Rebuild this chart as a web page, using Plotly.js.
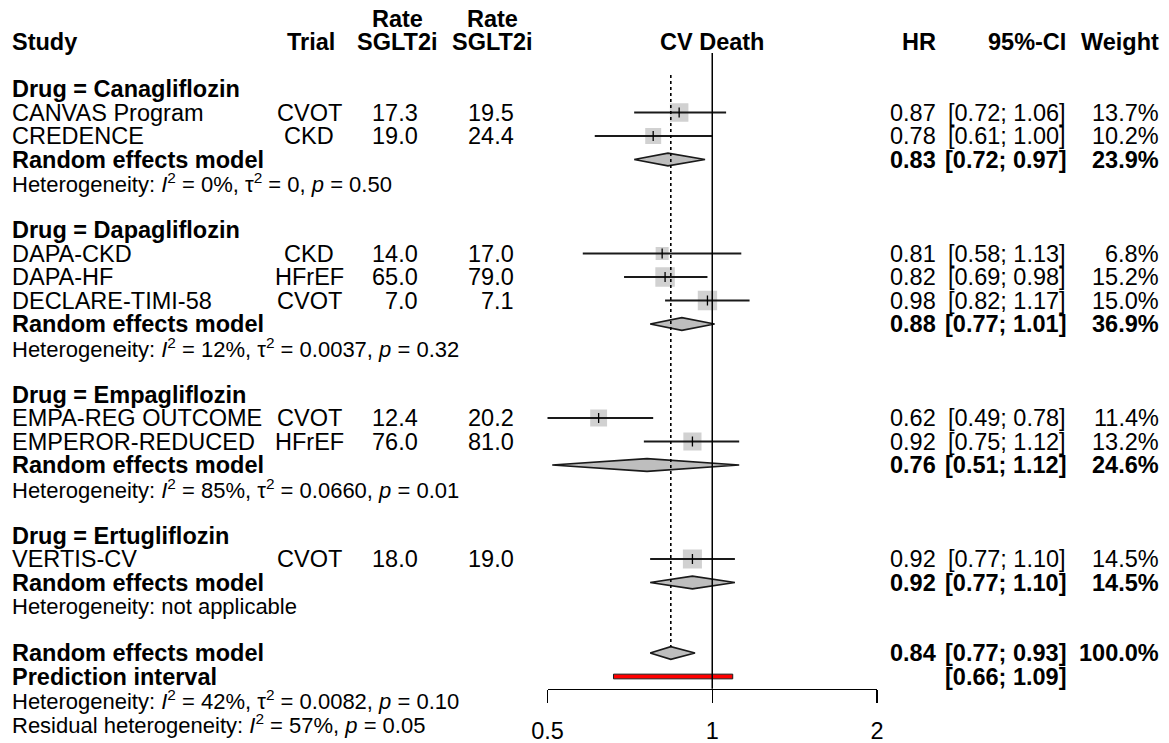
<!DOCTYPE html>
<html>
<head>
<meta charset="utf-8">
<script src="https://cdn.plot.ly/plotly-3.0.1.min.js"></script>
<style>html,body{margin:0;padding:0;background:#fff;}#chart{width:1169px;height:743px;}</style>
</head>
<body>
<div id="chart"></div>
<script>
// ---------------- DATA ----------------
const studies = ['CANVAS Program','CREDENCE','DAPA-CKD','DAPA-HF','DECLARE-TIMI-58','EMPA-REG OUTCOME','EMPEROR-REDUCED','VERTIS-CV'];
const studyDrug = ['Canagliflozin','Canagliflozin','Dapagliflozin','Dapagliflozin','Dapagliflozin','Empagliflozin','Empagliflozin','Ertugliflozin'];
const trialType = ['CVOT','CKD','CKD','HFrEF','CVOT','CVOT','HFrEF','CVOT'];
const rateA = [17.3,19.0,14.0,65.0,7.0,12.4,76.0,18.0];
const rateB = [19.5,24.4,17.0,79.0,7.1,20.2,81.0,19.0];
const hr = [0.87,0.78,0.81,0.82,0.98,0.62,0.92,0.92];
const ciLower = [0.72,0.61,0.58,0.69,0.82,0.49,0.75,0.77];
const ciUpper = [1.06,1.00,1.13,0.98,1.17,0.78,1.12,1.10];
const weight = [13.7,10.2,6.8,15.2,15.0,11.4,13.2,14.5];

const groups = ['Canagliflozin','Dapagliflozin','Empagliflozin','Ertugliflozin'];
const groupHR = [0.83,0.88,0.76,0.92];
const groupLower = [0.72,0.77,0.51,0.77];
const groupUpper = [0.97,1.01,1.12,1.10];
const groupWeight = [23.9,36.9,24.6,14.5];
const groupHet = [
  'Heterogeneity: <i>I</i><sup>2</sup> = 0%, τ<sup>2</sup> = 0, <i>p</i> = 0.50',
  'Heterogeneity: <i>I</i><sup>2</sup> = 12%, τ<sup>2</sup> = 0.0037, <i>p</i> = 0.32',
  'Heterogeneity: <i>I</i><sup>2</sup> = 85%, τ<sup>2</sup> = 0.0660, <i>p</i> = 0.01',
  'Heterogeneity: not applicable'
];
const overallHR = 0.84, overallLower = 0.77, overallUpper = 0.93, overallWeight = 100.0;
const predLower = 0.66, predUpper = 1.09;
const overallHet = 'Heterogeneity: <i>I</i><sup>2</sup> = 42%, τ<sup>2</sup> = 0.0082, <i>p</i> = 0.10';
const residualHet = 'Residual heterogeneity: <i>I</i><sup>2</sup> = 57%, <i>p</i> = 0.05';
const tickVals = [0.5, 1, 2];
const tickText = ['0.5', '1', '2'];
const headers = {study:'Study', trial:'Trial', rateTop:'Rate', rateBottom:'SGLT2i', plot:'CV Death', hr:'HR', ci:'95%-CI', weight:'Weight'};

// ---------------- LAYOUT HELPERS ----------------
const W = 1169, H = 743;
const ROW0 = 42, ROWH = 23.5;
const px = v => v / W;
const FONT = 'Liberation Sans, Arial, Helvetica, sans-serif';
const FS = 23.5, FSH = 22;
const COL = {study: 10, trial: 309, rateA: 420, rateAh: 397, rateB: 516, rateBh: 492, hr: 938, ci: 1068, wt: 1161, plot: 712};

const ann = [];
function txt(text, x, row, anchor, bold, size) {
  ann.push({text: bold ? '<b>' + text + '</b>' : text, x: px(x), xref: 'paper', y: row, yref: 'y',
    xanchor: anchor, yanchor: 'middle', showarrow: false,
    font: {family: FONT, size: size || FS, color: '#000'}});
}
const fmt1 = v => v.toFixed(1);
const fmt2 = v => v.toFixed(2);
const fmtCI = (l, u) => '[' + fmt2(l) + '; ' + fmt2(u) + ']';
const fmtW = v => v.toFixed(1) + '%';

// headers
txt(headers.study, COL.study, 0, 'left', true);
txt(headers.trial, COL.trial + 2, 0, 'center', true);
txt(headers.rateTop, COL.rateAh, -1, 'center', true);
txt(headers.rateBottom, COL.rateAh, 0, 'center', true);
txt(headers.rateTop, COL.rateBh, -1, 'center', true);
txt(headers.rateBottom, COL.rateBh, 0, 'center', true);
txt(headers.plot, COL.plot, 0, 'center', true);
txt(headers.hr, COL.hr, 0, 'right', true);
txt(headers.ci, COL.ci, 0, 'right', true);
txt(headers.weight, COL.wt, 0, 'right', true);

// rows
const sqX = [], sqY = [], sqS = [];
const ciX = [], ciY = [];
const diaX = [], diaY = [];
const DH = 0.27;
let row = 2;
groups.forEach((g, gi) => {
  txt('Drug = ' + g, COL.study, row, 'left', true);
  row++;
  studies.forEach((s, i) => {
    if (studyDrug[i] !== g) return;
    txt(s, COL.study, row, 'left', false);
    txt(trialType[i], COL.trial, row, 'center', false);
    txt(fmt1(rateA[i]), COL.rateA, row, 'right', false);
    txt(fmt1(rateB[i]), COL.rateB, row, 'right', false);
    txt(fmt2(hr[i]), COL.hr, row, 'right', false);
    txt(fmtCI(ciLower[i], ciUpper[i]), COL.ci, row, 'right', false);
    txt(fmtW(weight[i]), COL.wt, row, 'right', false);
    sqX.push(hr[i]); sqY.push(row); sqS.push(5 * Math.sqrt(weight[i]));
    ciX.push(ciLower[i], ciUpper[i], null); ciY.push(row, row, null);
    row++;
  });
  txt('Random effects model', COL.study, row, 'left', true);
  txt(fmt2(groupHR[gi]), COL.hr, row, 'right', true);
  txt(fmtCI(groupLower[gi], groupUpper[gi]), COL.ci, row, 'right', true);
  txt(fmtW(groupWeight[gi]), COL.wt, row, 'right', true);
  diaX.push(groupLower[gi], groupHR[gi], groupUpper[gi], groupHR[gi], groupLower[gi], null);
  diaY.push(row, row - DH, row, row + DH, row, null);
  row++;
  txt(groupHet[gi], COL.study, row, 'left', false, FSH);
  row += 2;
});
const overallRow = row;
txt('Random effects model', COL.study, row, 'left', true);
txt(fmt2(overallHR), COL.hr, row, 'right', true);
txt(fmtCI(overallLower, overallUpper), COL.ci, row, 'right', true);
txt(fmtW(overallWeight), COL.wt, row, 'right', true);
diaX.push(overallLower, overallHR, overallUpper, overallHR, overallLower, null);
diaY.push(row, row - DH, row, row + DH, row, null);
row++;
const predRow = row;
txt('Prediction interval', COL.study, row, 'left', true);
txt(fmtCI(predLower, predUpper), COL.ci, row, 'right', true);
row++;
txt(overallHet, COL.study, row, 'left', false, FSH);
row++;
txt(residualHet, COL.study, row, 'left', false, FSH);

const PH = 0.1;
const traces = [
  {x: sqX, y: sqY, mode: 'markers', type: 'scatter', hoverinfo: 'skip',
   marker: {symbol: 'square', size: sqS, color: '#BEBEBE', line: {width: 0}}},
  {x: ciX, y: ciY, mode: 'lines', type: 'scatter', hoverinfo: 'skip',
   line: {color: '#1a1a1a', width: 1.8}},
  {x: sqX, y: sqY, mode: 'markers', type: 'scatter', hoverinfo: 'skip',
   marker: {symbol: 'line-ns', size: 7, line: {color: '#000', width: 1.3}}},
  {x: diaX, y: diaY, mode: 'lines', type: 'scatter', fill: 'toself', hoverinfo: 'skip',
   fillcolor: '#BEBEBE', line: {color: '#1a1a1a', width: 1.6}},
  {x: [predLower, predUpper, predUpper, predLower, predLower],
   y: [predRow - PH, predRow - PH, predRow + PH, predRow + PH, predRow - PH],
   mode: 'lines', type: 'scatter', fill: 'toself', hoverinfo: 'skip',
   fillcolor: '#FF0000', line: {color: '#1a1a1a', width: 1}}
];

const axisPix = 688.7;
const yTop = -ROW0 / ROWH, yBot = (H - ROW0) / ROWH;
const axisRow = (axisPix - ROW0) / ROWH;
const shapes = [
  {type: 'line', xref: 'x', yref: 'y', x0: 1, x1: 1, y0: 0.47, y1: axisRow,
   line: {color: '#000', width: 1.5}},
  {type: 'line', xref: 'x', yref: 'y', x0: overallHR, x1: overallHR, y0: 1.4, y1: overallRow - DH,
   line: {color: '#000', width: 1.6, dash: 'dot'}}
];

const layout = {
  width: W, height: H,
  margin: {l: 0, r: 0, t: 0, b: 0},
  paper_bgcolor: '#fff', plot_bgcolor: 'rgba(0,0,0,0)',
  showlegend: false,
  font: {family: FONT, color: '#000'},
  xaxis: {type: 'log', domain: [px(547.5), px(877)], range: [Math.log10(0.5), Math.log10(2)],
    tickvals: tickVals, ticktext: tickText, ticks: 'outside', ticklen: 13, tickwidth: 1.5, tickcolor: '#000',
    ticklabelstandoff: 8,
    showline: true, linecolor: '#000', linewidth: 1.5, showgrid: false, zeroline: false,
    anchor: 'free', position: (H - axisPix) / H, tickfont: {family: FONT, size: FS, color: '#000'}},
  yaxis: {range: [yBot, yTop], domain: [0, 1], visible: false, showgrid: false, zeroline: false},
  annotations: ann,
  shapes: shapes
};

Plotly.newPlot('chart', traces, layout, {displayModeBar: false, staticPlot: true});
</script>
</body>
</html>
